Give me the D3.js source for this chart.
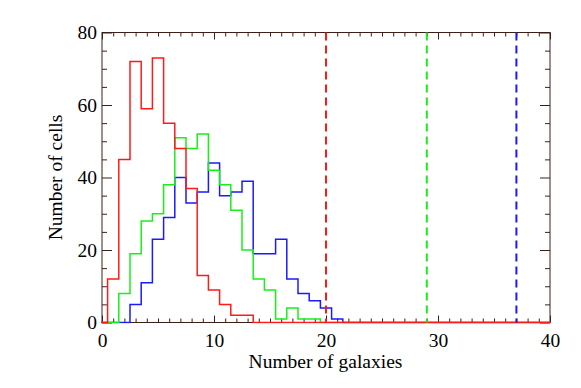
<!DOCTYPE html>
<html>
<head>
<meta charset="utf-8">
<script src="https://cdn.jsdelivr.net/npm/d3@7"></script>
<style>
  body { margin: 0; background: #fff; }
</style>
</head>
<body>
<div id="chart"></div>
<script>
// counts per bin, bins centred on 0, 1, 2, ... (width 1)
var redCounts   = [0, 12, 45, 72, 59, 73, 55, 48, 37, 13, 9, 5, 2, 2]
var greenCounts = [0, 0, 8, 19, 28, 30, 38, 51, 48, 52, 42, 38, 31, 20, 12, 9, 1, 4, 1, 1]
var blueCounts  = [0, 0, 0, 5, 11, 23, 29, 40, 33, 36, 44, 35, 36, 39, 19, 19, 23, 12, 8, 6, 4, 1]
var markers = [20, 29, 37]          // dashed verticals: red, green, blue
var xTicks = [0, 10, 20, 30, 40]
var yTicks = [0, 20, 40, 60, 80]

var W = 581, H = 388
var m = { left: 102, top: 32.5, right: 31, bottom: 65.5 }
var w = W - m.left - m.right, h = H - m.top - m.bottom
var axisColor = "#3c2018"
var serif = "'Liberation Serif', 'Times New Roman', serif"
var fs = "19.5px"

var svg = d3.select("#chart").append("svg").attr("width", W).attr("height", H)
var g = svg.append("g").attr("transform", "translate(" + m.left + "," + m.top + ")")

var x = d3.scaleLinear().domain([0, 40]).range([0, w])
var y = d3.scaleLinear().domain([0, 80]).range([h, 0])

var xMinor = d3.range(0, 41).filter(function(v){ return v % 10 })
var yMinor = d3.range(0, 81, 5).filter(function(v){ return v % 20 })

function styleAxis(sel) {
	sel.attr("font-family", null).attr("font-size", null)
	sel.select(".domain").remove()
	sel.selectAll("line").attr("stroke", axisColor).attr("stroke-width", 1)
	sel.selectAll("text").style("font-family", serif).style("font-size", fs).attr("fill", "#000")
}

// bottom
g.append("g").attr("transform", "translate(0," + h + ")")
	.call(d3.axisBottom(x).tickValues(xTicks).tickSize(-7).tickPadding(10.5).tickFormat(d3.format("d")))
	.call(styleAxis)
g.append("g").attr("transform", "translate(0," + h + ")")
	.call(d3.axisBottom(x).tickValues(xMinor).tickSize(-4).tickFormat(""))
	.call(styleAxis)
// top
g.append("g")
	.call(d3.axisTop(x).tickValues(xTicks).tickSize(-7).tickFormat(""))
	.call(styleAxis)
g.append("g")
	.call(d3.axisTop(x).tickValues(xMinor).tickSize(-4).tickFormat(""))
	.call(styleAxis)
// left
g.append("g")
	.call(d3.axisLeft(y).tickValues(yTicks).tickSize(-10).tickPadding(5).tickFormat(d3.format("d")))
	.call(styleAxis)
g.append("g")
	.call(d3.axisLeft(y).tickValues(yMinor).tickSize(-5).tickFormat(""))
	.call(styleAxis)
// right
g.append("g").attr("transform", "translate(" + w + ",0)")
	.call(d3.axisRight(y).tickValues(yTicks).tickSize(-10).tickFormat(""))
	.call(styleAxis)
g.append("g").attr("transform", "translate(" + w + ",0)")
	.call(d3.axisRight(y).tickValues(yMinor).tickSize(-5).tickFormat(""))
	.call(styleAxis)

g.append("rect").attr("width", w).attr("height", h)
	.attr("fill", "none").attr("stroke", axisColor).attr("stroke-width", 1)

g.append("clipPath").attr("id", "clip").append("rect").attr("x", -1).attr("y", -1).attr("width", w + 2).attr("height", h + 2)

// step histogram path
function stepPoints(counts) {
	var pts = counts.map(function(v, i){ return [i - 0.5, v] })
	pts.push([counts.length - 0.5, 0])
	pts.push([40, 0])
	return pts
}
var line = d3.line().x(function(d){ return x(d[0]) }).y(function(d){ return y(d[1]) }).curve(d3.curveStepAfter)

var series = [
	{ counts: blueCounts, color: "#1a1aff" },
	{ counts: greenCounts, color: "#19ee19" },
	{ counts: redCounts, color: "#ff1a1a" }
]
var hist = g.append("g").attr("clip-path", "url(#clip)")
series.forEach(function(s){
	hist.append("path").attr("d", line(stepPoints(s.counts)))
		.attr("fill", "none").attr("stroke", s.color).attr("stroke-width", 1.5)
})

var markerColors = ["#ff1a1a", "#19ee19", "#1a1aff"]
markers.forEach(function(v, i){
	g.append("line").attr("x1", x(v)).attr("x2", x(v)).attr("y1", y(80)).attr("y2", y(0))
		.attr("stroke", markerColors[i]).attr("stroke-width", 2).attr("stroke-dasharray", "8,5")
})

svg.append("text").attr("x", m.left + w / 2 - 0.5).attr("y", 368)
	.attr("text-anchor", "middle").style("font-family", serif).style("font-size", fs).text("Number of galaxies")
svg.append("text").attr("transform", "translate(62," + (m.top + h / 2) + ") rotate(-90)")
	.attr("text-anchor", "middle").style("font-family", serif).style("font-size", fs).text("Number of cells")
</script>
</body>
</html>
